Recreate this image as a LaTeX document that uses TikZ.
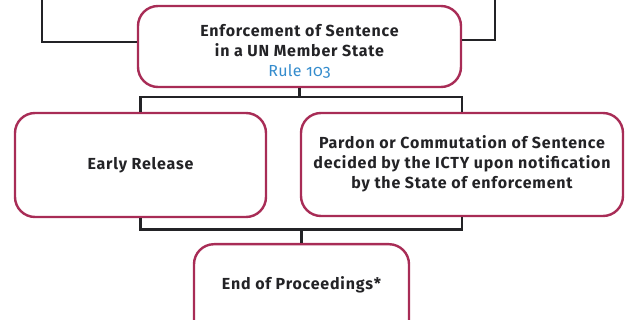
\documentclass[tikz,border=0pt]{standalone}
\usepackage{fontspec}
\setmainfont{Fira Sans}[BoldFont={* Bold}, Numbers=OldStyle]
\definecolor{frame}{RGB}{168,44,86}
\definecolor{ink}{RGB}{35,35,38}
\definecolor{rule}{RGB}{52,140,205}
\begin{document}
\begin{tikzpicture}[x=1pt,y=-1pt,
  box/.style={draw=frame, line width=2.4pt, rounded corners=20pt, fill=white, inner sep=0pt},
  lbl/.style={text=ink, font=\fontsize{16}{20}\selectfont\addfontfeature{LetterSpace=5}\bfseries, align=center},
  conn/.style={draw=ink, line width=2.2pt}]
\useasboundingbox (0,0) rectangle (635,320);
% nodes
\node[box, minimum width=323pt, minimum height=81pt] (enf) at (299.5,46.5) {};
\node[lbl] (enft) at (299.5,51) {Enforcement of Sentence\\in a UN Member State\\{\mdseries\color{rule}\addfontfeature{LetterSpace=2}Rule 103}};
\node[box, minimum width=251pt, minimum height=104pt] (early) at (140.5,165) {};
\node[lbl] (earlyt) at (140.5,165) {Early Release};
\node[box, minimum width=322pt, minimum height=103pt] (pardon) at (462,164.5) {};
\node[lbl] (pardont) at (462,164) {Pardon or Commutation of Sentence\\decided by the ICTY upon notification\\by the State of enforcement};
\node[box, minimum width=215pt, minimum height=110pt, anchor=north] (endbox) at (301.5,243) {};
\node[lbl] (endt) at (301.5,285) {End of Proceedings*};
% coordinates
\coordinate (tl) at (42,-2);
\coordinate (tlj) at (42,42);
\coordinate (tr) at (495,-2);
\coordinate (trj) at (495,40);
\coordinate (bus1) at (299.5,97);
\coordinate (bus2) at (301.5,229.5);
% connectors
\draw[conn] (tl) -- (tlj) -- (tlj -| enf.west);
\draw[conn] (tr) -- (trj) -- (trj -| enf.east);
\draw[conn] (enf.south) -- (bus1);
\draw[conn] (early.north) -- (early.north |- bus1) -- (pardon.north |- bus1) -- (pardon.north);
\draw[conn] (early.south) -- (early.south |- bus2) -- (pardon.south |- bus2) -- (pardon.south);
\draw[conn] (bus2) -- (endbox.north);
\end{tikzpicture}
\end{document}
